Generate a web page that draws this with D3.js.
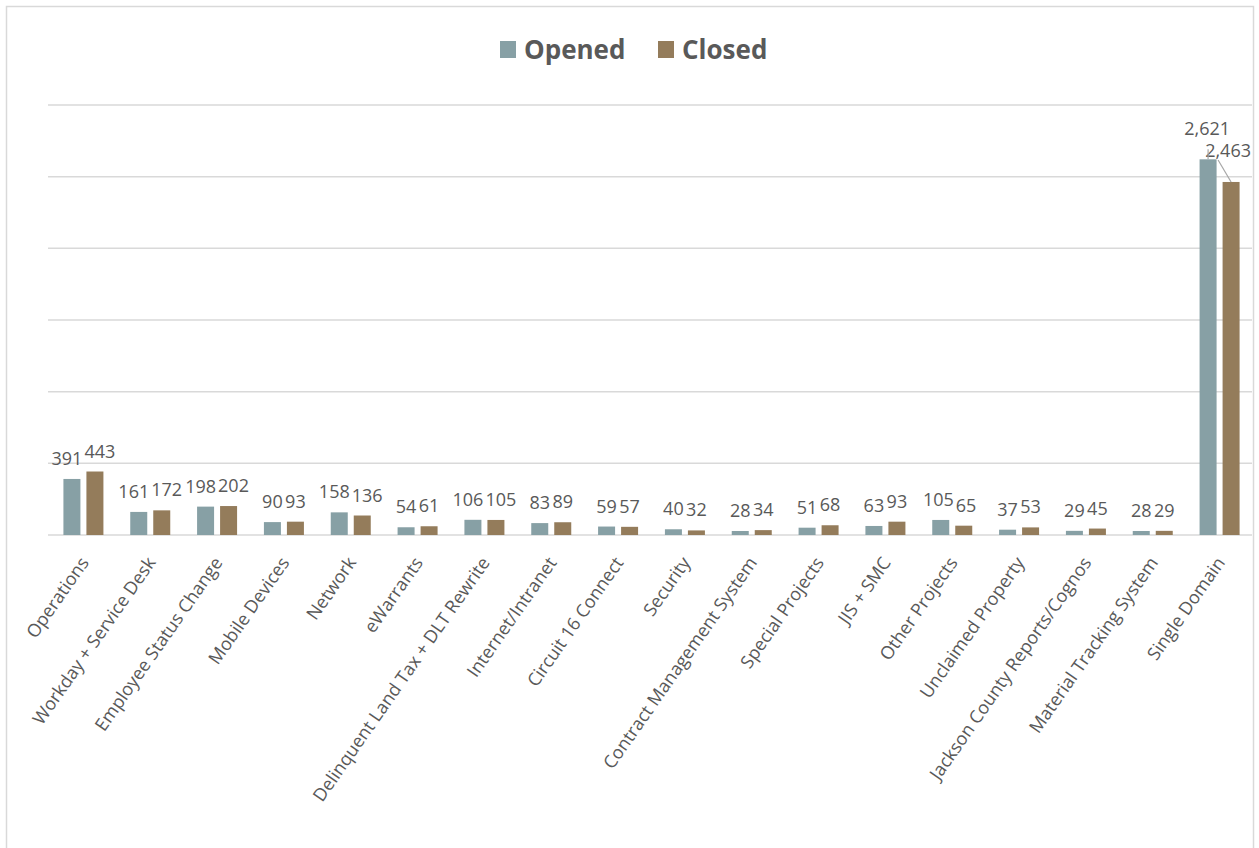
<!DOCTYPE html>
<html>
<head>
<meta charset="utf-8">
<script src="https://cdn.jsdelivr.net/npm/d3@7"></script>
<style>
  body { margin: 0; background: #fff; }
  text { font-family: "Open Sans", "DejaVu Sans", sans-serif; fill: #595959; }
</style>
</head>
<body>
<div id="chart"></div>
<script>
// Categories and series values
const categories = [
  "Operations", "Workday + Service Desk", "Employee Status Change", "Mobile Devices",
  "Network", "eWarrants", "Delinquent Land Tax + DLT Rewrite", "Internet/Intranet",
  "Circuit 16 Connect", "Security", "Contract Management System", "Special Projects",
  "JIS + SMC", "Other Projects", "Unclaimed Property", "Jackson County Reports/Cognos",
  "Material Tracking System", "Single Domain"
];
const opened = [391, 161, 198, 90, 158, 54, 106, 83, 59, 40, 28, 51, 63, 105, 37, 29, 28, 2621];
const closed = [443, 172, 202, 93, 136, 61, 105, 89, 57, 32, 34, 68, 93, 65, 53, 45, 29, 2463];
const seriesNames = ["Opened", "Closed"];
const gridTicks = [0, 500, 1000, 1500, 2000, 2500, 3000];

const colors = { Opened: "#87A0A5", Closed: "#947C5B" };

const width = 1259, height = 848;
const plot = { left: 48, right: 1252, top: 105, bottom: 535 };

const svg = d3.select("#chart").append("svg")
  .attr("width", width)
  .attr("height", height);

// chart border
svg.append("rect")
  .attr("x", 6.5).attr("y", 6.5)
  .attr("width", 1247).attr("height", 900)
  .attr("fill", "none")
  .attr("stroke", "#D9D9D9")
  .attr("stroke-width", 1.5);

const x = d3.scaleBand()
  .domain(categories)
  .range([50, 1253]);

const xSeries = d3.scaleBand()
  .domain(seriesNames)
  .range([(x.step() - 40) / 2, (x.step() + 40) / 2])
  .paddingInner(0.261);

const y = d3.scaleLinear()
  .domain([0, 3000])
  .range([plot.bottom, plot.top]);

// gridlines
svg.append("g")
  .selectAll("line")
  .data(gridTicks)
  .enter().append("line")
    .attr("x1", plot.left)
    .attr("x2", plot.right)
    .attr("y1", d => y(d))
    .attr("y2", d => y(d))
    .attr("stroke", "#D9D9D9")
    .attr("stroke-width", 1.5);

const rows = categories.map((c, i) => ({
  category: c,
  values: [
    { key: "Opened", value: opened[i] },
    { key: "Closed", value: closed[i] }
  ]
}));

const groups = svg.append("g")
  .selectAll("g.cat")
  .data(rows)
  .enter().append("g")
    .attr("class", "cat")
    .attr("transform", d => "translate(" + x(d.category) + ",0)");

groups.selectAll("rect")
  .data(d => d.values)
  .enter().append("rect")
    .attr("x", d => xSeries(d.key))
    .attr("width", xSeries.bandwidth())
    .attr("y", d => y(d.value))
    .attr("height", d => y(0) - y(d.value))
    .attr("fill", d => colors[d.key]);

// data labels; the tall bars get lifted labels with leader lines
const big = 1000;
const fmt = d3.format(",");
const barMid = key => xSeries(key) + xSeries.bandwidth() / 2;

groups.each(function(d) {
  const g = d3.select(this);
  const labels = d.values.map(v => {
    const t = g.append("text")
      .attr("text-anchor", "middle")
      .style("font-size", "18px")
      .text(fmt(v.value));
    return { v: v, t: t, w: t.node().getComputedTextLength(), cx: barMid(v.key) };
  });

  if (d.values[0].value >= big) {
    // lifted labels like the reference
    const [a, b] = labels;
    a.t.attr("x", a.cx - 1).attr("y", y(a.v.value) - 24);
    b.t.attr("x", b.cx - 3).attr("y", y(b.v.value) - 25);
    g.append("line")
      .attr("x1", a.cx).attr("x2", a.cx)
      .attr("y1", y(a.v.value) - 10).attr("y2", y(a.v.value))
      .attr("stroke", "#A6A6A6").attr("stroke-width", 1.2);
    g.append("line")
      .attr("x1", b.cx - 13).attr("y1", y(b.v.value) - 22)
      .attr("x2", b.cx).attr("y2", y(b.v.value))
      .attr("stroke", "#A6A6A6").attr("stroke-width", 1.2);
    return;
  }

  // push the pair apart when they would collide
  const [a, b] = labels;
  const overlap = (a.cx + a.w / 2 + 2) - (b.cx - b.w / 2);
  if (overlap > 0) {
    a.cx -= overlap / 2;
    b.cx += overlap / 2;
  }
  labels.forEach(l => {
    l.t.attr("x", l.cx).attr("y", y(l.v.value) - 14);
  });
});

// category labels
svg.append("g")
  .selectAll("text")
  .data(categories)
  .enter().append("text")
    .attr("transform", d => "translate(" + (x(d) + x.step() / 2 + 1) + "," + 559 + ") rotate(-55)")
    .attr("text-anchor", "end")
    .attr("dy", "0.35em")
    .style("font-size", "18px")
    .text(d => d);

// legend
const legend = svg.append("g").attr("transform", "translate(500,41)");
const legendItems = [
  { key: "Opened", x: 0 },
  { key: "Closed", x: 158 }
];
legendItems.forEach(item => {
  legend.append("rect")
    .attr("x", item.x)
    .attr("y", 0)
    .attr("width", 16)
    .attr("height", 17)
    .attr("fill", colors[item.key]);
  legend.append("text")
    .attr("x", item.x + 24)
    .attr("y", 18)
    .style("font-size", "26px")
    .style("font-weight", "bold")
    .text(item.key);
});
</script>
</body>
</html>
